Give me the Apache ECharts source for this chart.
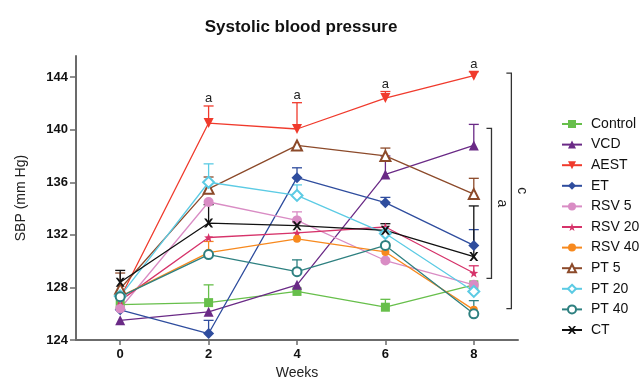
<!DOCTYPE html>
<html>
<head>
<meta charset="utf-8">
<script src="https://cdn.jsdelivr.net/npm/echarts@6/dist/echarts.min.js"></script>
<style>
  html, body { margin: 0; padding: 0; background: #fff; }
</style>
</head>
<body>
<div id="main" style="width: 640px;height:385px;"></div>
<script type="text/javascript">
    // x values (weeks) and tick labels
    var weeks = [0, 2, 4, 6, 8];
    var xTicks = [0, 2, 4, 6, 8];
    var yTicks = [124, 128, 132, 136, 140, 144];

    // group means (SBP, mm Hg) and upper error bars
    var control  = [126.7, 126.85, 127.7, 126.5, 128.2];
    var controlE = [0, 1.35, 0, 0.6, 0];
    var vcd      = [125.5, 126.15, 128.2, 136.6, 138.8];
    var vcdE     = [0, 0, 0, 1.4, 1.6];
    var aest     = [127.2, 140.5, 140.05, 142.4, 144.1];
    var aestE    = [0, 1.3, 2.0, 0.5, 0.3];
    var aestSig  = ['', 'a', 'a', 'a', 'a'];
    var et       = [126.3, 124.5, 136.35, 134.45, 131.2];
    var etE      = [0, 1.0, 0.75, 0.4, 1.2];
    var rsv5     = [126.4, 134.5, 133.1, 130.05, 128.2];
    var rsv5E    = [0, 0, 0.65, 0, 0];
    var rsv20    = [127.0, 131.8, 132.15, 132.6, 129.1];
    var rsv20E   = [0, 0, 0, 0, 0.55];
    var rsv40    = [127.3, 130.65, 131.7, 130.7, 126.3];
    var rsv40E   = [0, 0.85, 0, 0, 0];
    var pt5      = [127.9, 135.5, 138.8, 138.0, 135.1];
    var pt5E     = [1.2, 0.9, 0, 0.6, 1.2];
    var pt20     = [127.35, 136.0, 135.0, 132.1, 127.7];
    var pt20E    = [0, 1.4, 0.8, 0, 0];
    var pt40     = [127.3, 130.5, 129.2, 131.2, 126.0];
    var pt40E    = [0, 0, 0.9, 0, 1.0];
    var ct       = [128.4, 132.9, 132.7, 132.35, 130.35];
    var ctE      = [0.9, 1.4, 0.3, 0.5, 3.85];

    // significance brackets at the right: [top, bottom, label, x]
    var brackets = [
        [140.1, 128.7, 'a', 8.40],
        [144.3, 126.4, 'c', 8.85]
    ];

    var starPath = 'path://M5,0 L6.2,3.6 L10,3.8 L7,6.1 L8.1,9.8 L5,7.6 L1.9,9.8 L3,6.1 L0,3.8 L3.8,3.6 Z';
    var crossPath = 'path://M0,0 L2.4,0 L5,3.2 L7.6,0 L10,0 L6.3,5 L10,10 L7.6,10 L5,6.8 L2.4,10 L0,10 L3.7,5 Z';

    var groups = [
        {name: 'Control', data: control, err: controlE, color: '#67bf4b', symbol: 'rect', size: 9},
        {name: 'VCD', data: vcd, err: vcdE, color: '#6a2a86', symbol: 'triangle', size: 10},
        {name: 'AEST', data: aest, err: aestE, color: '#f03a2c', symbol: 'triangle', size: 10, rotate: 180, sig: aestSig},
        {name: 'ET', data: et, err: etE, color: '#2f4d9e', symbol: 'diamond', size: 11},
        {name: 'RSV 5', data: rsv5, err: rsv5E, color: '#d98cc4', symbol: 'circle', size: 10},
        {name: 'RSV 20', data: rsv20, err: rsv20E, color: '#d6336a', symbol: starPath, size: 9},
        {name: 'RSV 40', data: rsv40, err: rsv40E, color: '#f7891e', symbol: 'circle', size: 8},
        {name: 'PT 5', data: pt5, err: pt5E, color: '#8c4a2a', symbol: 'triangle', size: 10, hollow: true},
        {name: 'PT 20', data: pt20, err: pt20E, color: '#5ccbe4', symbol: 'diamond', size: 11, hollow: true},
        {name: 'PT 40', data: pt40, err: pt40E, color: '#2e8080', symbol: 'circle', size: 9, hollow: true},
        {name: 'CT', data: ct, err: ctE, color: '#111111', symbol: crossPath, size: 9}
    ];

    var font = 'Liberation Sans, Arial, sans-serif';
    var axisColor = '#6b6b6b';

    var errData = [];
    var series = [];
    groups.forEach(function (g) {
        var pts = [];
        for (var i = 0; i < weeks.length; i++) {
            pts.push([weeks[i], g.data[i]]);
            if (g.err[i] > 0 || (g.sig && g.sig[i])) {
                errData.push([weeks[i], g.data[i], g.data[i] + g.err[i], g.color, g.sig ? g.sig[i] : '']);
            }
        }
        series.push({
            name: g.name,
            type: 'line',
            data: pts,
            symbol: g.symbol,
            symbolSize: g.size,
            symbolRotate: g.rotate || 0,
            showAllSymbol: true,
            z: 3,
            lineStyle: {color: g.color, width: 1.3},
            itemStyle: g.hollow ? {color: '#ffffff', borderColor: g.color, borderWidth: 2}
                                : {color: g.color, borderWidth: 0},
            emphasis: {disabled: true}
        });
    });

    // error bars (upper) and significance letters
    series.push({
        name: 'err',
        type: 'custom',
        z: 2,
        silent: true,
        data: errData,
        renderItem: function (params, api) {
            var p0 = api.coord([api.value(0), api.value(1)]);
            var p1 = api.coord([api.value(0), api.value(2)]);
            var d = errData[params.dataIndex];
            var children = [];
            if (p0[1] - p1[1] > 0.5) {
                children.push({type: 'line', shape: {x1: p0[0], y1: p0[1], x2: p1[0], y2: p1[1]},
                    style: {stroke: d[3], lineWidth: 1.3}});
                children.push({type: 'line', shape: {x1: p1[0] - 5, y1: p1[1], x2: p1[0] + 5, y2: p1[1]},
                    style: {stroke: d[3], lineWidth: 1.3}});
            }
            if (d[4]) {
                children.push({type: 'text', style: {text: d[4], x: p1[0], y: p1[1] - 1,
                    textAlign: 'center', textVerticalAlign: 'bottom',
                    font: '13px ' + font, fill: '#222'}});
            }
            return {type: 'group', children: children};
        }
    });

    // brackets on the right side
    series.push({
        name: 'bracket',
        type: 'custom',
        z: 2,
        silent: true,
        data: brackets,
        renderItem: function (params, api) {
            var b = brackets[params.dataIndex];
            var top = api.coord([b[3], b[0]]);
            var bot = api.coord([b[3], b[1]]);
            var mid = api.coord([b[3], (b[0] + b[1]) / 2]);
            return {type: 'group', children: [
                {type: 'polyline', shape: {points: [[top[0] - 5, top[1]], [top[0], top[1]], [bot[0], bot[1]], [bot[0] - 5, bot[1]]]},
                    style: {stroke: '#333', lineWidth: 1.3, fill: null}},
                {type: 'text', x: top[0] + 10, y: mid[1], rotation: -Math.PI / 2,
                    style: {text: b[2], textAlign: 'center', textVerticalAlign: 'middle',
                        font: '14px ' + font, fill: '#222'}}
            ]};
        }
    });

    var myChart = echarts.init(document.getElementById('main'));
    var option = {
        backgroundColor: '#ffffff',
        animation: false,
        title: {
            text: 'Systolic blood pressure',
            left: 296,
            textAlign: 'center',
            top: 14,
            textStyle: {fontFamily: font, fontSize: 17, fontWeight: 'bold', color: '#111'}
        },
        legend: {
            data: groups.map(function (g) { return g.name; }),
            orient: 'vertical',
            left: 556,
            top: 112,
            itemWidth: 20,
            itemHeight: 10,
            itemGap: 6.6,
            textStyle: {fontFamily: font, fontSize: 14, lineHeight: 14, color: '#111', padding: [0, 0, 0, 4]}
        },
        grid: {left: 76, right: 122, top: 56, bottom: 40},
        xAxis: {
            type: 'value',
            min: -1,
            max: 9,
            name: 'Weeks',
            nameLocation: 'middle',
            nameGap: 25,
            nameTextStyle: {fontFamily: font, fontSize: 14, color: '#222'},
            axisLine: {onZero: false, lineStyle: {color: axisColor, width: 2}},
            axisTick: {show: true, length: 5, customValues: xTicks, lineStyle: {color: axisColor, width: 1.5}},
            axisLabel: {customValues: xTicks, margin: 8, fontFamily: font, fontSize: 13, fontWeight: 'bold', color: '#111'},
            splitLine: {show: false}
        },
        yAxis: {
            type: 'value',
            min: 124,
            max: 145.6,
            name: 'SBP (mm Hg)',
            nameLocation: 'middle',
            nameGap: 48,
            nameTextStyle: {fontFamily: font, fontSize: 14, color: '#222'},
            axisLine: {show: true, onZero: false, lineStyle: {color: axisColor, width: 2}},
            axisTick: {show: true, length: 6, customValues: yTicks, lineStyle: {color: axisColor, width: 1.5}},
            axisLabel: {customValues: yTicks, margin: 8, fontFamily: font, fontSize: 13, fontWeight: 'bold', color: '#111'},
            splitLine: {show: false}
        },
        series: series
    };
    myChart.setOption(option);
</script>
</body>
</html>
